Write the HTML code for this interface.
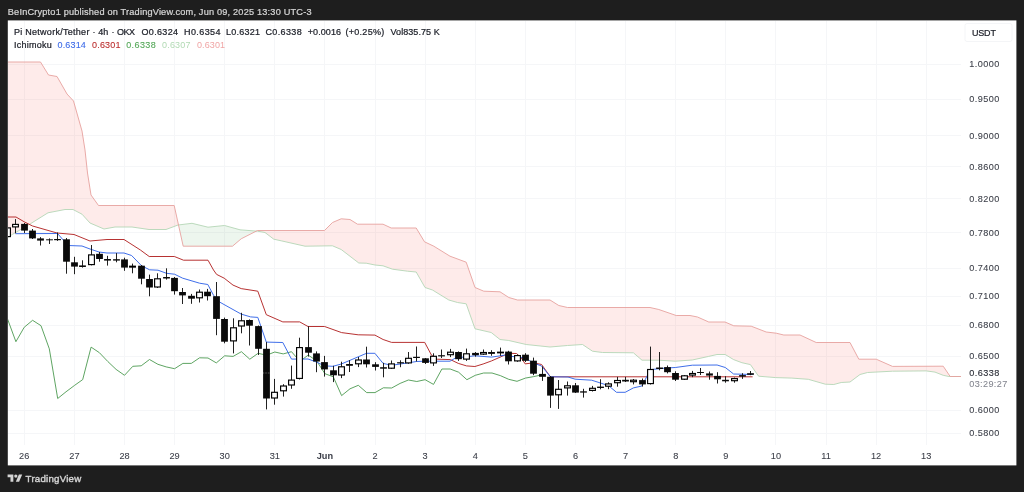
<!DOCTYPE html>
<html><head><meta charset="utf-8"><title>Pi Network/Tether chart</title>
<style>
html,body{margin:0;padding:0;background:#1e1e1e;}
body{width:1024px;height:492px;position:relative;overflow:hidden;font-family:"Liberation Sans",sans-serif;}
svg text{font-family:"Liberation Sans",sans-serif;}
</style></head><body>

<svg width="1024" height="492" viewBox="0 0 1024 492" style="position:absolute;left:0;top:0"><defs><clipPath id="pane"><rect x="8" y="21" width="953" height="424"/></clipPath></defs><rect x="7.8" y="20.4" width="1008.6" height="445" fill="#fff"/><rect x="965" y="23.5" width="47" height="18" rx="2" fill="none" stroke="#f4f5f7" stroke-width="1"/><g stroke="#f5f6f8" stroke-width="1" shape-rendering="crispEdges"><line x1="24.5" y1="21" x2="24.5" y2="445"/><line x1="74.5" y1="21" x2="74.5" y2="445"/><line x1="124.5" y1="21" x2="124.5" y2="445"/><line x1="174.5" y1="21" x2="174.5" y2="445"/><line x1="224.5" y1="21" x2="224.5" y2="445"/><line x1="274.5" y1="21" x2="274.5" y2="445"/><line x1="324.5" y1="21" x2="324.5" y2="445"/><line x1="375.5" y1="21" x2="375.5" y2="445"/><line x1="425.5" y1="21" x2="425.5" y2="445"/><line x1="475.5" y1="21" x2="475.5" y2="445"/><line x1="525.5" y1="21" x2="525.5" y2="445"/><line x1="575.5" y1="21" x2="575.5" y2="445"/><line x1="625.5" y1="21" x2="625.5" y2="445"/><line x1="675.5" y1="21" x2="675.5" y2="445"/><line x1="725.5" y1="21" x2="725.5" y2="445"/><line x1="775.5" y1="21" x2="775.5" y2="445"/><line x1="826.5" y1="21" x2="826.5" y2="445"/><line x1="876.5" y1="21" x2="876.5" y2="445"/><line x1="926.5" y1="21" x2="926.5" y2="445"/><line x1="8" y1="64.5" x2="961" y2="64.5"/><line x1="8" y1="99.5" x2="961" y2="99.5"/><line x1="8" y1="135.5" x2="961" y2="135.5"/><line x1="8" y1="166.5" x2="961" y2="166.5"/><line x1="8" y1="198.5" x2="961" y2="198.5"/><line x1="8" y1="232.5" x2="961" y2="232.5"/><line x1="8" y1="268.5" x2="961" y2="268.5"/><line x1="8" y1="296.5" x2="961" y2="296.5"/><line x1="8" y1="325.5" x2="961" y2="325.5"/><line x1="8" y1="356.5" x2="961" y2="356.5"/><line x1="8" y1="410.5" x2="961" y2="410.5"/><line x1="8" y1="433.5" x2="961" y2="433.5"/></g><g clip-path="url(#pane)"><polygon points="7.2,62.0 12.6,62.0 30.2,62.0 40.5,62.0 48.0,74.2 48.5,75.0 57.0,76.5 65.0,90.5 67.0,94.0 73.0,100.5 73.5,101.0 82.0,131.0 85.0,150.0 87.5,173.0 90.0,188.7 91.0,195.0 98.5,205.5 104.0,205.5 115.0,205.5 132.0,205.5 149.0,205.5 166.0,205.5 174.2,205.5 178.0,222.7 178.5,224.9 178.5,224.9 178.0,225.0 174.2,226.4 166.0,229.5 149.0,229.5 132.0,227.0 115.0,227.0 104.0,229.0 98.5,226.6 91.0,223.4 90.0,223.0 87.5,220.2 85.0,217.5 82.0,214.2 73.5,209.8 73.0,209.5 67.0,209.5 65.0,209.5 57.0,211.1 48.5,212.7 48.0,212.8 40.5,217.5 30.2,223.9 12.6,234.3 7.2,237.6" fill="rgba(244,67,54,0.105)"/><polygon points="178.5,224.9 183.2,246.2 192.0,246.2 208.0,246.2 224.5,246.2 232.5,246.2 240.0,239.8 241.2,238.8 256.3,231.1 256.3,231.1 241.2,229.9 240.0,229.8 232.5,227.7 224.5,225.5 208.0,227.2 192.0,223.3 183.2,224.4 178.5,224.9" fill="rgba(67,160,71,0.095)"/><polygon points="256.3,231.1 257.5,230.5 265.0,230.5 273.8,230.5 281.2,230.5 305.0,230.5 324.5,230.5 332.5,222.5 341.2,218.8 350.0,219.5 357.5,224.2 358.8,224.2 366.2,224.2 375.0,224.2 383.0,224.2 391.2,228.0 392.5,228.0 407.5,228.0 416.2,228.0 424.5,241.8 425.0,242.0 432.5,245.6 433.8,246.2 448.8,255.5 450.0,256.2 457.5,259.0 466.2,262.2 475.0,287.5 483.8,291.2 491.2,291.5 500.0,291.8 508.8,297.5 517.5,300.0 526.2,300.0 550.0,300.0 558.8,305.5 567.5,307.5 582.5,307.5 592.5,307.5 602.5,307.5 633.4,307.5 642.0,307.5 650.0,307.5 658.6,309.5 658.8,309.5 675.3,315.2 676.2,315.5 690.0,315.5 692.3,316.0 697.5,317.0 708.7,322.0 708.8,322.0 717.0,322.0 725.0,322.0 725.2,322.1 733.6,325.7 733.8,325.8 741.9,326.0 750.4,326.2 751.2,326.2 758.6,329.1 766.2,332.0 775.6,333.1 776.2,333.2 783.8,335.0 791.9,335.0 800.0,335.0 808.3,338.8 816.2,342.5 825.3,342.5 833.8,342.5 841.2,342.5 850.0,342.5 858.8,359.2 860.0,359.2 867.5,359.2 876.2,359.2 892.5,366.4 926.2,366.3 935.0,366.2 943.2,366.2 948.9,374.6 950.2,376.5 962.0,376.5 962.0,376.5 950.2,376.5 948.9,376.5 943.2,375.3 935.0,372.1 926.2,370.9 892.5,371.2 876.2,372.0 867.5,372.5 860.0,374.5 858.8,375.4 850.0,382.0 841.2,382.5 833.8,384.5 825.3,384.2 816.2,381.6 808.3,379.3 800.0,378.7 791.9,378.1 783.8,377.9 776.2,377.6 775.6,377.6 766.2,376.8 758.6,376.2 751.2,365.7 750.4,364.6 741.9,362.7 733.8,359.7 733.6,359.6 725.2,354.5 725.0,354.5 717.0,354.5 708.8,356.4 708.7,356.4 697.5,358.9 692.3,360.0 690.0,360.2 676.2,361.1 675.3,361.2 658.8,360.2 658.6,360.2 650.0,360.2 642.0,360.2 633.4,352.8 602.5,352.5 592.5,351.2 582.5,344.5 567.5,345.5 558.8,346.2 550.0,347.0 526.2,344.5 517.5,342.5 508.8,340.5 500.0,339.5 491.2,332.5 483.8,330.8 475.0,328.8 466.2,303.8 457.5,302.5 450.0,300.3 448.8,300.0 433.8,290.8 432.5,290.0 425.0,287.5 424.5,286.6 416.2,272.0 407.5,271.2 392.5,269.2 391.2,268.7 383.0,265.8 375.0,265.0 366.2,263.2 358.8,263.0 357.5,262.0 350.0,256.2 341.2,249.5 332.5,245.8 324.5,245.9 305.0,246.2 281.2,240.8 273.8,239.2 265.0,232.5 257.5,231.2 256.3,231.1" fill="rgba(244,67,54,0.105)"/><polyline points="7.2,237.6 12.6,234.3 30.2,223.9 48.0,212.8 65.0,209.5 73.0,209.5 82.0,214.2 90.0,223.0 104.0,229.0 115.0,227.0 132.0,227.0 149.0,229.5 166.0,229.5 178.0,225.0 192.0,223.3 208.0,227.2 224.5,225.5 240.0,229.8 257.5,231.2 265.0,232.5 273.8,239.2 281.2,240.8 305.0,246.2 332.5,245.8 341.2,249.5 358.8,263.0 366.2,263.2 375.0,265.0 383.0,265.8 392.5,269.2 407.5,271.2 416.2,272.0 425.0,287.5 432.5,290.0 448.8,300.0 457.5,302.5 466.2,303.8 475.0,328.8 491.2,332.5 500.0,339.5 508.8,340.5 526.2,344.5 550.0,347.0 567.5,345.5 582.5,344.5 592.5,351.2 602.5,352.5 633.4,352.8 642.0,360.2 658.6,360.2 675.3,361.2 692.3,360.0 708.7,356.4 717.0,354.5 725.2,354.5 733.6,359.6 741.9,362.7 750.4,364.6 758.6,376.2 775.6,377.6 791.9,378.1 808.3,379.3 825.3,384.2 833.8,384.5 841.2,382.5 850.0,382.0 860.0,374.5 867.5,372.5 892.5,371.2 926.2,370.9 935.0,372.1 943.2,375.3 948.9,376.5 962.0,376.5" fill="none" stroke="#b4d6b5" stroke-width="0.9"/><polyline points="7.2,62.0 40.5,62.0 48.5,75.0 57.0,76.5 67.0,94.0 73.5,101.0 82.0,131.0 85.0,150.0 87.5,173.0 91.0,195.0 98.5,205.5 174.2,205.5 183.2,246.2 232.5,246.2 241.2,238.8 257.5,230.5 324.5,230.5 332.5,222.5 341.2,218.8 350.0,219.5 357.5,224.2 383.0,224.2 391.2,228.0 416.2,228.0 424.5,241.8 433.8,246.2 450.0,256.2 466.2,262.2 475.0,287.5 483.8,291.2 500.0,291.8 508.8,297.5 517.5,300.0 550.0,300.0 558.8,305.5 567.5,307.5 650.0,307.5 658.8,309.5 676.2,315.5 690.0,315.5 697.5,317.0 708.8,322.0 725.0,322.0 733.8,325.8 751.2,326.2 766.2,332.0 776.2,333.2 783.8,335.0 800.0,335.0 816.2,342.5 850.0,342.5 858.8,359.2 876.2,359.2 892.5,366.4 943.2,366.2 950.2,376.5 962.0,376.5" fill="none" stroke="#e6a19e" stroke-width="0.9"/><polyline points="7.5,318.9 15.9,341.7 24.2,327.3 32.6,320.3 41.0,325.7 49.3,348.8 57.7,398.5 66.0,391.8 74.4,385.5 82.7,379.6 91.1,347.1 99.4,352.7 107.8,361.5 116.1,369.4 124.5,375.3 132.8,366.3 141.2,365.8 149.5,359.5 157.9,364.3 166.2,366.9 174.6,368.7 182.9,363.4 191.3,363.4 199.6,357.8 208.0,358.0 216.3,362.9 224.7,355.8 233.1,356.4 241.4,351.7 249.8,359.2 258.1,353.3 266.5,355.2 274.8,352.0 283.2,353.9 291.5,351.7 299.9,361.3 308.2,355.1 316.6,360.8 324.9,373.7 333.3,376.8 341.6,395.6 350.0,388.8 358.3,385.3 366.7,392.6 375.0,392.6 383.4,387.8 391.7,388.0 400.1,383.4 408.4,380.0 416.8,381.5 425.1,379.7 433.5,384.4 441.9,369.0 450.2,369.0 458.6,372.2 466.9,379.7 475.3,375.3 483.6,373.0 492.0,373.0 500.3,375.6 508.7,379.3 517.0,381.3 525.4,378.1 533.7,376.6 542.1,374.8" fill="none" stroke="#4c9a50" stroke-width="0.9" stroke-linejoin="round"/><polyline points="7.2,217.0 16.0,217.0 24.2,221.8 32.6,226.0 57.0,233.0 74.0,234.5 90.0,241.0 107.0,239.5 124.0,239.5 140.4,250.0 149.2,256.5 174.4,256.5 183.5,260.2 208.0,260.2 213.5,270.0 216.6,274.4 224.2,278.2 233.0,285.1 241.2,288.6 257.8,291.2 266.3,314.7 282.8,321.9 299.7,321.9 308.0,326.5 324.6,326.5 341.6,332.6 358.2,334.8 374.9,335.1 383.1,339.5 391.6,342.4 424.7,342.4 431.5,355.2 437.2,359.2 450.4,359.6 458.3,363.4 466.5,365.9 474.9,366.5 483.1,364.0 491.6,360.9 504.5,355.2 508.3,353.3 516.5,353.5 520.9,357.4 525.2,363.9 533.4,362.8 541.6,364.5 550.4,376.8 752.6,376.8" fill="none" stroke="#b32727" stroke-width="0.95" stroke-linejoin="round"/><polyline points="15.5,233.7 57.5,233.5 68.0,245.5 82.0,246.0 90.0,249.0 99.0,252.0 107.0,253.0 124.0,253.0 131.6,255.5 141.5,265.7 149.6,269.8 158.0,270.2 166.5,273.3 174.5,274.2 182.7,278.2 199.6,283.2 207.8,284.5 213.5,295.2 219.7,302.1 241.2,314.1 250.6,316.9 257.8,317.4 266.3,342.1 282.8,342.5 291.5,359.1 308.0,359.0 316.2,361.9 324.6,365.9 333.0,366.3 341.3,364.0 366.5,353.3 374.9,353.3 383.1,363.4 391.6,365.3 408.3,362.8 416.5,361.5 424.8,361.2 450.0,361.2 455.4,358.0 474.9,355.8 491.6,357.1 504.5,355.2 508.3,356.0 525.2,358.0 533.4,363.0 541.6,366.0 550.4,376.8 568.0,377.0 575.2,379.2 591.7,380.2 608.5,385.6 616.5,392.3 625.2,392.3 633.4,387.9 641.9,386.0 650.4,369.6 666.8,368.0 675.3,367.5 692.3,365.2 717.1,365.0 725.3,367.5 733.6,374.0 752.6,374.5" fill="none" stroke="#3566e8" stroke-width="0.95" stroke-linejoin="round"/><line x1="7.50" y1="227.0" x2="7.50" y2="237.5" stroke="#151515" stroke-width="0.95"/><rect x="4.60" y="227.9" width="5.8" height="8.7" fill="#fff" stroke="#000" stroke-width="1.15"/><line x1="15.50" y1="219.1" x2="15.50" y2="233.3" stroke="#151515" stroke-width="0.95"/><rect x="12.60" y="224.4" width="5.8" height="2.5" fill="#fff" stroke="#000" stroke-width="1.15"/><line x1="24.50" y1="223.0" x2="24.50" y2="233.0" stroke="#151515" stroke-width="0.95"/><rect x="21.10" y="223.9" width="6.8" height="6.7" fill="#0a0a0a"/><line x1="32.50" y1="229.0" x2="32.50" y2="239.0" stroke="#151515" stroke-width="0.95"/><rect x="29.10" y="230.6" width="6.8" height="7.8" fill="#0a0a0a"/><line x1="40.50" y1="237.1" x2="40.50" y2="245.5" stroke="#151515" stroke-width="0.95"/><rect x="37.10" y="238.4" width="6.8" height="2.2" fill="#0a0a0a"/><line x1="49.50" y1="238.4" x2="49.50" y2="244.0" stroke="#151515" stroke-width="0.95"/><rect x="46.10" y="239.3" width="6.8" height="1.0" fill="#0a0a0a"/><line x1="57.50" y1="232.5" x2="57.50" y2="240.9" stroke="#151515" stroke-width="0.95"/><rect x="54.10" y="239.0" width="6.8" height="1.2" fill="#0a0a0a"/><line x1="66.50" y1="238.0" x2="66.50" y2="273.7" stroke="#151515" stroke-width="0.95"/><rect x="63.10" y="239.3" width="6.8" height="22.4" fill="#0a0a0a"/><line x1="74.50" y1="256.8" x2="74.50" y2="274.2" stroke="#151515" stroke-width="0.95"/><rect x="71.10" y="262.3" width="6.8" height="4.3" fill="#0a0a0a"/><line x1="82.50" y1="260.3" x2="82.50" y2="267.6" stroke="#151515" stroke-width="0.95"/><rect x="79.10" y="265.4" width="6.8" height="1.6" fill="#0a0a0a"/><line x1="91.50" y1="245.0" x2="91.50" y2="265.4" stroke="#151515" stroke-width="0.95"/><rect x="88.60" y="254.9" width="5.8" height="9.7" fill="#fff" stroke="#000" stroke-width="1.15"/><line x1="99.50" y1="252.0" x2="99.50" y2="261.7" stroke="#151515" stroke-width="0.95"/><rect x="96.10" y="253.8" width="6.8" height="5.2" fill="#0a0a0a"/><line x1="107.50" y1="255.8" x2="107.50" y2="265.6" stroke="#151515" stroke-width="0.95"/><rect x="104.10" y="259.0" width="6.8" height="1.6" fill="#0a0a0a"/><line x1="116.50" y1="253.1" x2="116.50" y2="262.3" stroke="#151515" stroke-width="0.95"/><rect x="113.10" y="259.2" width="6.8" height="1.4" fill="#0a0a0a"/><line x1="124.50" y1="257.7" x2="124.50" y2="270.8" stroke="#151515" stroke-width="0.95"/><rect x="121.10" y="259.4" width="6.8" height="8.2" fill="#0a0a0a"/><line x1="132.50" y1="263.6" x2="132.50" y2="273.3" stroke="#151515" stroke-width="0.95"/><rect x="129.60" y="266.2" width="5.8" height="0.9" fill="#fff" stroke="#000" stroke-width="1.15"/><line x1="141.50" y1="265.0" x2="141.50" y2="284.3" stroke="#151515" stroke-width="0.95"/><rect x="138.10" y="265.7" width="6.8" height="13.0" fill="#0a0a0a"/><line x1="149.50" y1="274.6" x2="149.50" y2="296.3" stroke="#151515" stroke-width="0.95"/><rect x="146.10" y="279.0" width="6.8" height="8.5" fill="#0a0a0a"/><line x1="157.50" y1="273.3" x2="157.50" y2="288.0" stroke="#151515" stroke-width="0.95"/><rect x="154.60" y="278.8" width="5.8" height="8.2" fill="#fff" stroke="#000" stroke-width="1.15"/><line x1="166.50" y1="268.3" x2="166.50" y2="279.6" stroke="#151515" stroke-width="0.95"/><rect x="163.10" y="277.0" width="6.8" height="1.5" fill="#0a0a0a"/><line x1="174.50" y1="277.0" x2="174.50" y2="294.6" stroke="#151515" stroke-width="0.95"/><rect x="171.10" y="277.9" width="6.8" height="13.3" fill="#0a0a0a"/><line x1="182.50" y1="288.0" x2="182.50" y2="304.0" stroke="#151515" stroke-width="0.95"/><rect x="179.10" y="292.0" width="6.8" height="3.4" fill="#0a0a0a"/><line x1="191.50" y1="293.9" x2="191.50" y2="303.8" stroke="#151515" stroke-width="0.95"/><rect x="188.10" y="295.8" width="6.8" height="2.9" fill="#0a0a0a"/><line x1="199.50" y1="289.5" x2="199.50" y2="302.5" stroke="#151515" stroke-width="0.95"/><rect x="196.60" y="292.2" width="5.8" height="5.6" fill="#fff" stroke="#000" stroke-width="1.15"/><line x1="207.50" y1="288.9" x2="207.50" y2="300.5" stroke="#151515" stroke-width="0.95"/><rect x="204.10" y="291.7" width="6.8" height="4.5" fill="#0a0a0a"/><line x1="216.50" y1="282.0" x2="216.50" y2="335.2" stroke="#151515" stroke-width="0.95"/><rect x="213.10" y="296.2" width="6.8" height="22.7" fill="#0a0a0a"/><line x1="224.50" y1="317.6" x2="224.50" y2="343.3" stroke="#151515" stroke-width="0.95"/><rect x="221.10" y="319.0" width="6.8" height="22.7" fill="#0a0a0a"/><line x1="233.50" y1="318.3" x2="233.50" y2="353.4" stroke="#151515" stroke-width="0.95"/><rect x="230.60" y="327.8" width="5.8" height="13.1" fill="#fff" stroke="#000" stroke-width="1.15"/><line x1="241.50" y1="312.8" x2="241.50" y2="333.3" stroke="#151515" stroke-width="0.95"/><rect x="238.60" y="320.8" width="5.8" height="5.2" fill="#fff" stroke="#000" stroke-width="1.15"/><line x1="249.50" y1="319.4" x2="249.50" y2="345.5" stroke="#151515" stroke-width="0.95"/><rect x="246.10" y="320.0" width="6.8" height="5.7" fill="#0a0a0a"/><line x1="258.50" y1="325.5" x2="258.50" y2="355.0" stroke="#151515" stroke-width="0.95"/><rect x="255.10" y="326.1" width="6.8" height="22.7" fill="#0a0a0a"/><line x1="266.50" y1="342.1" x2="266.50" y2="409.4" stroke="#151515" stroke-width="0.95"/><rect x="263.10" y="348.8" width="6.8" height="49.7" fill="#0a0a0a"/><line x1="274.50" y1="378.9" x2="274.50" y2="404.7" stroke="#151515" stroke-width="0.95"/><rect x="271.60" y="392.3" width="5.8" height="5.7" fill="#fff" stroke="#000" stroke-width="1.15"/><line x1="283.50" y1="384.2" x2="283.50" y2="396.6" stroke="#151515" stroke-width="0.95"/><rect x="280.60" y="386.0" width="5.8" height="4.8" fill="#fff" stroke="#000" stroke-width="1.15"/><line x1="291.50" y1="365.6" x2="291.50" y2="388.8" stroke="#151515" stroke-width="0.95"/><rect x="288.60" y="380.1" width="5.8" height="4.9" fill="#fff" stroke="#000" stroke-width="1.15"/><line x1="299.50" y1="337.7" x2="299.50" y2="379.5" stroke="#151515" stroke-width="0.95"/><rect x="296.60" y="347.6" width="5.8" height="30.8" fill="#fff" stroke="#000" stroke-width="1.15"/><line x1="308.50" y1="326.3" x2="308.50" y2="356.6" stroke="#151515" stroke-width="0.95"/><rect x="305.10" y="347.1" width="6.8" height="5.6" fill="#0a0a0a"/><line x1="316.50" y1="351.4" x2="316.50" y2="372.2" stroke="#151515" stroke-width="0.95"/><rect x="313.10" y="353.4" width="6.8" height="8.1" fill="#0a0a0a"/><line x1="324.50" y1="355.9" x2="324.50" y2="376.6" stroke="#151515" stroke-width="0.95"/><rect x="321.10" y="362.1" width="6.8" height="7.3" fill="#0a0a0a"/><line x1="333.50" y1="365.8" x2="333.50" y2="382.1" stroke="#151515" stroke-width="0.95"/><rect x="330.10" y="370.3" width="6.8" height="5.0" fill="#0a0a0a"/><line x1="341.50" y1="361.7" x2="341.50" y2="378.1" stroke="#151515" stroke-width="0.95"/><rect x="338.60" y="366.8" width="5.8" height="8.2" fill="#fff" stroke="#000" stroke-width="1.15"/><line x1="349.50" y1="360.2" x2="349.50" y2="372.0" stroke="#151515" stroke-width="0.95"/><rect x="346.10" y="364.0" width="6.8" height="1.8" fill="#0a0a0a"/><line x1="358.50" y1="357.0" x2="358.50" y2="367.1" stroke="#151515" stroke-width="0.95"/><rect x="355.60" y="360.0" width="5.8" height="3.8" fill="#fff" stroke="#000" stroke-width="1.15"/><line x1="366.50" y1="346.7" x2="366.50" y2="367.5" stroke="#151515" stroke-width="0.95"/><rect x="363.10" y="359.5" width="6.8" height="4.8" fill="#0a0a0a"/><line x1="375.50" y1="362.2" x2="375.50" y2="370.5" stroke="#151515" stroke-width="0.95"/><rect x="372.10" y="364.3" width="6.8" height="2.6" fill="#0a0a0a"/><line x1="383.50" y1="362.8" x2="383.50" y2="377.3" stroke="#151515" stroke-width="0.95"/><rect x="380.10" y="367.2" width="6.8" height="1.5" fill="#0a0a0a"/><line x1="391.50" y1="360.5" x2="391.50" y2="369.0" stroke="#151515" stroke-width="0.95"/><rect x="388.60" y="363.9" width="5.8" height="4.3" fill="#fff" stroke="#000" stroke-width="1.15"/><line x1="400.50" y1="360.3" x2="400.50" y2="367.2" stroke="#151515" stroke-width="0.95"/><rect x="397.10" y="362.2" width="6.8" height="1.2" fill="#0a0a0a"/><line x1="408.50" y1="352.0" x2="408.50" y2="363.8" stroke="#151515" stroke-width="0.95"/><rect x="405.60" y="358.3" width="5.8" height="4.6" fill="#fff" stroke="#000" stroke-width="1.15"/><line x1="416.50" y1="346.5" x2="416.50" y2="361.5" stroke="#151515" stroke-width="0.95"/><rect x="413.10" y="356.8" width="6.8" height="1.2" fill="#0a0a0a"/><line x1="425.50" y1="358.0" x2="425.50" y2="364.0" stroke="#151515" stroke-width="0.95"/><rect x="422.10" y="358.3" width="6.8" height="4.6" fill="#0a0a0a"/><line x1="433.50" y1="353.3" x2="433.50" y2="365.9" stroke="#151515" stroke-width="0.95"/><rect x="430.60" y="356.3" width="5.8" height="6.6" fill="#fff" stroke="#000" stroke-width="1.15"/><line x1="441.50" y1="349.5" x2="441.50" y2="358.0" stroke="#151515" stroke-width="0.95"/><rect x="438.10" y="355.2" width="6.8" height="1.2" fill="#0a0a0a"/><line x1="450.50" y1="348.9" x2="450.50" y2="357.1" stroke="#151515" stroke-width="0.95"/><rect x="447.60" y="352.2" width="5.8" height="2.5" fill="#fff" stroke="#000" stroke-width="1.15"/><line x1="458.50" y1="351.4" x2="458.50" y2="360.9" stroke="#151515" stroke-width="0.95"/><rect x="455.10" y="352.0" width="6.8" height="7.2" fill="#0a0a0a"/><line x1="466.50" y1="348.6" x2="466.50" y2="360.9" stroke="#151515" stroke-width="0.95"/><rect x="463.60" y="353.8" width="5.8" height="5.3" fill="#fff" stroke="#000" stroke-width="1.15"/><line x1="475.50" y1="352.0" x2="475.50" y2="356.7" stroke="#151515" stroke-width="0.95"/><rect x="472.10" y="352.9" width="6.8" height="2.3" fill="#0a0a0a"/><line x1="483.50" y1="349.5" x2="483.50" y2="355.0" stroke="#151515" stroke-width="0.95"/><rect x="480.60" y="352.5" width="5.8" height="1.6" fill="#fff" stroke="#000" stroke-width="1.15"/><line x1="491.50" y1="350.2" x2="491.50" y2="355.8" stroke="#151515" stroke-width="0.95"/><rect x="488.10" y="352.0" width="6.8" height="1.9" fill="#0a0a0a"/><line x1="500.50" y1="347.6" x2="500.50" y2="355.8" stroke="#151515" stroke-width="0.95"/><rect x="497.60" y="352.2" width="5.8" height="0.6" fill="#fff" stroke="#000" stroke-width="1.15"/><line x1="508.50" y1="350.8" x2="508.50" y2="364.5" stroke="#151515" stroke-width="0.95"/><rect x="505.10" y="351.6" width="6.8" height="9.7" fill="#0a0a0a"/><line x1="517.50" y1="354.6" x2="517.50" y2="361.8" stroke="#151515" stroke-width="0.95"/><rect x="514.60" y="355.6" width="5.8" height="5.3" fill="#fff" stroke="#000" stroke-width="1.15"/><line x1="525.50" y1="353.2" x2="525.50" y2="362.0" stroke="#151515" stroke-width="0.95"/><rect x="522.10" y="354.7" width="6.8" height="6.1" fill="#0a0a0a"/><line x1="533.50" y1="357.6" x2="533.50" y2="375.2" stroke="#151515" stroke-width="0.95"/><rect x="530.10" y="360.7" width="6.8" height="13.0" fill="#0a0a0a"/><line x1="542.50" y1="366.4" x2="542.50" y2="380.9" stroke="#151515" stroke-width="0.95"/><rect x="539.10" y="373.9" width="6.8" height="2.9" fill="#0a0a0a"/><line x1="550.50" y1="376.0" x2="550.50" y2="407.9" stroke="#151515" stroke-width="0.95"/><rect x="547.10" y="376.8" width="6.8" height="18.8" fill="#0a0a0a"/><line x1="558.50" y1="380.0" x2="558.50" y2="408.9" stroke="#151515" stroke-width="0.95"/><rect x="555.60" y="389.3" width="5.8" height="5.5" fill="#fff" stroke="#000" stroke-width="1.15"/><line x1="567.50" y1="381.5" x2="567.50" y2="395.6" stroke="#151515" stroke-width="0.95"/><rect x="564.60" y="385.8" width="5.8" height="2.1" fill="#fff" stroke="#000" stroke-width="1.15"/><line x1="575.50" y1="383.0" x2="575.50" y2="393.0" stroke="#151515" stroke-width="0.95"/><rect x="572.10" y="385.3" width="6.8" height="7.3" fill="#0a0a0a"/><line x1="583.50" y1="388.8" x2="583.50" y2="397.6" stroke="#151515" stroke-width="0.95"/><rect x="580.10" y="391.3" width="6.8" height="1.3" fill="#0a0a0a"/><line x1="592.50" y1="385.9" x2="592.50" y2="391.5" stroke="#151515" stroke-width="0.95"/><rect x="589.60" y="388.3" width="5.8" height="2.1" fill="#fff" stroke="#000" stroke-width="1.15"/><line x1="600.50" y1="379.2" x2="600.50" y2="389.3" stroke="#151515" stroke-width="0.95"/><rect x="597.10" y="386.6" width="6.8" height="1.4" fill="#0a0a0a"/><line x1="608.50" y1="382.3" x2="608.50" y2="389.2" stroke="#151515" stroke-width="0.95"/><rect x="605.60" y="383.9" width="5.8" height="2.3" fill="#fff" stroke="#000" stroke-width="1.15"/><line x1="617.50" y1="376.9" x2="617.50" y2="386.7" stroke="#151515" stroke-width="0.95"/><rect x="614.60" y="380.5" width="5.8" height="2.2" fill="#fff" stroke="#000" stroke-width="1.15"/><line x1="625.50" y1="376.9" x2="625.50" y2="382.0" stroke="#151515" stroke-width="0.95"/><rect x="622.10" y="379.8" width="6.8" height="1.7" fill="#0a0a0a"/><line x1="633.50" y1="379.0" x2="633.50" y2="384.4" stroke="#151515" stroke-width="0.95"/><rect x="630.60" y="380.2" width="5.8" height="1.5" fill="#fff" stroke="#000" stroke-width="1.15"/><line x1="642.50" y1="378.5" x2="642.50" y2="386.6" stroke="#151515" stroke-width="0.95"/><rect x="639.10" y="380.1" width="6.8" height="4.3" fill="#0a0a0a"/><line x1="650.50" y1="346.6" x2="650.50" y2="384.5" stroke="#151515" stroke-width="0.95"/><rect x="647.60" y="369.5" width="5.8" height="14.1" fill="#fff" stroke="#000" stroke-width="1.15"/><line x1="659.50" y1="352.0" x2="659.50" y2="370.3" stroke="#151515" stroke-width="0.95"/><rect x="656.10" y="367.5" width="6.8" height="1.5" fill="#0a0a0a"/><line x1="667.50" y1="365.5" x2="667.50" y2="373.4" stroke="#151515" stroke-width="0.95"/><rect x="664.10" y="367.1" width="6.8" height="5.1" fill="#0a0a0a"/><line x1="675.50" y1="371.3" x2="675.50" y2="381.0" stroke="#151515" stroke-width="0.95"/><rect x="672.10" y="373.0" width="6.8" height="6.7" fill="#0a0a0a"/><line x1="684.50" y1="375.0" x2="684.50" y2="380.0" stroke="#151515" stroke-width="0.95"/><rect x="681.60" y="375.8" width="5.8" height="3.4" fill="#fff" stroke="#000" stroke-width="1.15"/><line x1="692.50" y1="370.9" x2="692.50" y2="377.2" stroke="#151515" stroke-width="0.95"/><rect x="689.60" y="373.5" width="5.8" height="1.6" fill="#fff" stroke="#000" stroke-width="1.15"/><line x1="700.50" y1="368.0" x2="700.50" y2="375.0" stroke="#151515" stroke-width="0.95"/><rect x="697.10" y="372.0" width="6.8" height="1.0" fill="#0a0a0a"/><line x1="709.50" y1="371.5" x2="709.50" y2="379.7" stroke="#151515" stroke-width="0.95"/><rect x="706.10" y="373.4" width="6.8" height="2.2" fill="#0a0a0a"/><line x1="717.50" y1="372.2" x2="717.50" y2="383.5" stroke="#151515" stroke-width="0.95"/><rect x="714.10" y="375.9" width="6.8" height="3.4" fill="#0a0a0a"/><line x1="725.50" y1="376.2" x2="725.50" y2="382.7" stroke="#151515" stroke-width="0.95"/><rect x="722.10" y="379.8" width="6.8" height="1.5" fill="#0a0a0a"/><line x1="734.50" y1="377.6" x2="734.50" y2="382.7" stroke="#151515" stroke-width="0.95"/><rect x="731.60" y="378.6" width="5.8" height="2.1" fill="#fff" stroke="#000" stroke-width="1.15"/><line x1="742.50" y1="373.2" x2="742.50" y2="378.9" stroke="#151515" stroke-width="0.95"/><rect x="739.10" y="375.1" width="6.8" height="1.5" fill="#0a0a0a"/><line x1="750.50" y1="371.0" x2="750.50" y2="375.2" stroke="#151515" stroke-width="0.95"/><rect x="747.10" y="373.2" width="6.8" height="1.6" fill="#0a0a0a"/><line x1="263.2" y1="373" x2="270.2" y2="373" stroke="#fff" stroke-opacity="0.7" stroke-width="0.6" stroke-dasharray="0.8 0.8"/></g><g transform="translate(7.6,472.8) scale(0.411,0.405)" fill="#d4d4d4"><path d="M14 22H7V11H0V4h14v18z"/><circle cx="20" cy="8" r="4"/><path d="M28 22h-8l7.5-18h8L28 22z"/></g>
<g><text x="7.8" y="15.1" font-size="9.2" fill="#d6d6d6" stroke="#d6d6d6" stroke-width="0.22" font-weight="400" text-anchor="start" textLength="303.7" lengthAdjust="spacing">BeInCrypto1 published on TradingView.com, Jun 09, 2025 13:30 UTC-3</text><text x="13.9" y="35.3" font-size="9.0" fill="#1b1e27" stroke="#1b1e27" stroke-width="0.22" font-weight="400" text-anchor="start" textLength="75.5" lengthAdjust="spacing">Pi Network/Tether</text><text x="92.6" y="35.3" font-size="9.0" fill="#1b1e27" stroke="#1b1e27" stroke-width="0.22" font-weight="400" text-anchor="start">·</text><text x="98.2" y="35.3" font-size="9.0" fill="#1b1e27" stroke="#1b1e27" stroke-width="0.22" font-weight="400" text-anchor="start" textLength="10.1" lengthAdjust="spacing">4h</text><text x="111.5" y="35.3" font-size="9.0" fill="#1b1e27" stroke="#1b1e27" stroke-width="0.22" font-weight="400" text-anchor="start">·</text><text x="117.1" y="35.3" font-size="9.0" fill="#1b1e27" stroke="#1b1e27" stroke-width="0.22" font-weight="400" text-anchor="start" textLength="17.9" lengthAdjust="spacing">OKX</text><text x="141.5" y="35.3" font-size="9.0" fill="#1b1e27" stroke="#1b1e27" stroke-width="0.22" font-weight="400" text-anchor="start" textLength="36.5" lengthAdjust="spacing">O0.6324</text><text x="184" y="35.3" font-size="9.0" fill="#1b1e27" stroke="#1b1e27" stroke-width="0.22" font-weight="400" text-anchor="start" textLength="36.5" lengthAdjust="spacing">H0.6354</text><text x="226" y="35.3" font-size="9.0" fill="#1b1e27" stroke="#1b1e27" stroke-width="0.22" font-weight="400" text-anchor="start" textLength="34" lengthAdjust="spacing">L0.6321</text><text x="265.5" y="35.3" font-size="9.0" fill="#1b1e27" stroke="#1b1e27" stroke-width="0.22" font-weight="400" text-anchor="start" textLength="36.2" lengthAdjust="spacing">C0.6338</text><text x="307.7" y="35.3" font-size="9.0" fill="#1b1e27" stroke="#1b1e27" stroke-width="0.22" font-weight="400" text-anchor="start" textLength="33.3" lengthAdjust="spacing">+0.0016</text><text x="345.5" y="35.3" font-size="9.0" fill="#1b1e27" stroke="#1b1e27" stroke-width="0.22" font-weight="400" text-anchor="start" textLength="38.7" lengthAdjust="spacing">(+0.25%)</text><text x="390.5" y="35.3" font-size="9.0" fill="#1b1e27" stroke="#1b1e27" stroke-width="0.22" font-weight="400" text-anchor="start" textLength="49.2" lengthAdjust="spacing">Vol835.75 K</text><text x="13.9" y="47.9" font-size="9.0" fill="#1b1e27" stroke="#1b1e27" stroke-width="0.22" font-weight="400" text-anchor="start" textLength="37.8" lengthAdjust="spacing">Ichimoku</text><text x="57.5" y="47.9" font-size="9.0" fill="#3d6be8" stroke="#3d6be8" stroke-width="0.1" font-weight="400" text-anchor="start" textLength="28.3" lengthAdjust="spacing">0.6314</text><text x="92" y="47.9" font-size="9.0" fill="#bb2f2f" stroke="#bb2f2f" stroke-width="0.1" font-weight="400" text-anchor="start" textLength="28.5" lengthAdjust="spacing">0.6301</text><text x="126.2" y="47.9" font-size="9.0" fill="#55a859" stroke="#55a859" stroke-width="0.1" font-weight="400" text-anchor="start" textLength="29.5" lengthAdjust="spacing">0.6338</text><text x="162" y="47.9" font-size="9.0" fill="#b2dab4" stroke="#b2dab4" stroke-width="0" font-weight="400" text-anchor="start" textLength="28.5" lengthAdjust="spacing">0.6307</text><text x="197" y="47.9" font-size="9.0" fill="#f0a5a5" stroke="#f0a5a5" stroke-width="0" font-weight="400" text-anchor="start" textLength="28" lengthAdjust="spacing">0.6301</text><text x="972" y="36.1" font-size="9.0" fill="#1b1e27" stroke="#1b1e27" stroke-width="0.22" font-weight="400" text-anchor="start" textLength="23.9" lengthAdjust="spacing">USDT</text><text x="969.2" y="67.4" font-size="9.1" fill="#3a3d47" stroke="#3a3d47" stroke-width="0.08" font-weight="400" text-anchor="start" textLength="30.2" lengthAdjust="spacing">1.0000</text><text x="969.2" y="102.12556030037175" font-size="9.1" fill="#3a3d47" stroke="#3a3d47" stroke-width="0.08" font-weight="400" text-anchor="start" textLength="30.2" lengthAdjust="spacing">0.9500</text><text x="969.2" y="138.7290691003484" font-size="9.1" fill="#3a3d47" stroke="#3a3d47" stroke-width="0.08" font-weight="400" text-anchor="start" textLength="30.2" lengthAdjust="spacing">0.9000</text><text x="969.2" y="169.50709635031316" font-size="9.1" fill="#3a3d47" stroke="#3a3d47" stroke-width="0.08" font-weight="400" text-anchor="start" textLength="30.2" lengthAdjust="spacing">0.8600</text><text x="969.2" y="201.75128551603854" font-size="9.1" fill="#3a3d47" stroke="#3a3d47" stroke-width="0.08" font-weight="400" text-anchor="start" textLength="30.2" lengthAdjust="spacing">0.8200</text><text x="969.2" y="235.60834024508424" font-size="9.1" fill="#3a3d47" stroke="#3a3d47" stroke-width="0.08" font-weight="400" text-anchor="start" textLength="30.2" lengthAdjust="spacing">0.7800</text><text x="969.2" y="271.2481478147149" font-size="9.1" fill="#3a3d47" stroke="#3a3d47" stroke-width="0.08" font-weight="400" text-anchor="start" textLength="30.2" lengthAdjust="spacing">0.7400</text><text x="969.2" y="299.2659391569673" font-size="9.1" fill="#3a3d47" stroke="#3a3d47" stroke-width="0.08" font-weight="400" text-anchor="start" textLength="30.2" lengthAdjust="spacing">0.7100</text><text x="969.2" y="328.49349950971356" font-size="9.1" fill="#3a3d47" stroke="#3a3d47" stroke-width="0.08" font-weight="400" text-anchor="start" textLength="30.2" lengthAdjust="spacing">0.6800</text><text x="969.2" y="359.0400341945915" font-size="9.1" fill="#3a3d47" stroke="#3a3d47" stroke-width="0.08" font-weight="400" text-anchor="start" textLength="30.2" lengthAdjust="spacing">0.6500</text><text x="969.2" y="413.2289472895757" font-size="9.1" fill="#3a3d47" stroke="#3a3d47" stroke-width="0.08" font-weight="400" text-anchor="start" textLength="30.2" lengthAdjust="spacing">0.6000</text><text x="969.2" y="436.18029777401205" font-size="9.1" fill="#3a3d47" stroke="#3a3d47" stroke-width="0.08" font-weight="400" text-anchor="start" textLength="30.2" lengthAdjust="spacing">0.5800</text><text x="969.2" y="376.09999999999997" font-size="9.1" fill="#2a2d36" stroke="#2a2d36" stroke-width="0.12" font-weight="400" text-anchor="start" textLength="30.2" lengthAdjust="spacing">0.6338</text><text x="969.2" y="386.8" font-size="9.1" fill="#80838d" stroke="#80838d" stroke-width="0.05" font-weight="400" text-anchor="start" textLength="38" lengthAdjust="spacing">03:29:27</text><text x="24.2" y="458.5" font-size="9.2" fill="#3a3d47" stroke="#3a3d47" stroke-width="0.08" font-weight="400" text-anchor="middle">26</text><text x="74.4" y="458.5" font-size="9.2" fill="#3a3d47" stroke="#3a3d47" stroke-width="0.08" font-weight="400" text-anchor="middle">27</text><text x="124.5" y="458.5" font-size="9.2" fill="#3a3d47" stroke="#3a3d47" stroke-width="0.08" font-weight="400" text-anchor="middle">28</text><text x="174.6" y="458.5" font-size="9.2" fill="#3a3d47" stroke="#3a3d47" stroke-width="0.08" font-weight="400" text-anchor="middle">29</text><text x="224.7" y="458.5" font-size="9.2" fill="#3a3d47" stroke="#3a3d47" stroke-width="0.08" font-weight="400" text-anchor="middle">30</text><text x="274.8" y="458.5" font-size="9.2" fill="#3a3d47" stroke="#3a3d47" stroke-width="0.08" font-weight="400" text-anchor="middle">31</text><text x="324.9" y="458.5" font-size="9.2" fill="#3a3d47" stroke="#3a3d47" stroke-width="0" font-weight="700" text-anchor="middle">Jun</text><text x="375.0" y="458.5" font-size="9.2" fill="#3a3d47" stroke="#3a3d47" stroke-width="0.08" font-weight="400" text-anchor="middle">2</text><text x="425.1" y="458.5" font-size="9.2" fill="#3a3d47" stroke="#3a3d47" stroke-width="0.08" font-weight="400" text-anchor="middle">3</text><text x="475.2" y="458.5" font-size="9.2" fill="#3a3d47" stroke="#3a3d47" stroke-width="0.08" font-weight="400" text-anchor="middle">4</text><text x="525.4" y="458.5" font-size="9.2" fill="#3a3d47" stroke="#3a3d47" stroke-width="0.08" font-weight="400" text-anchor="middle">5</text><text x="575.5" y="458.5" font-size="9.2" fill="#3a3d47" stroke="#3a3d47" stroke-width="0.08" font-weight="400" text-anchor="middle">6</text><text x="625.6" y="458.5" font-size="9.2" fill="#3a3d47" stroke="#3a3d47" stroke-width="0.08" font-weight="400" text-anchor="middle">7</text><text x="675.7" y="458.5" font-size="9.2" fill="#3a3d47" stroke="#3a3d47" stroke-width="0.08" font-weight="400" text-anchor="middle">8</text><text x="725.8" y="458.5" font-size="9.2" fill="#3a3d47" stroke="#3a3d47" stroke-width="0.08" font-weight="400" text-anchor="middle">9</text><text x="775.9" y="458.5" font-size="9.2" fill="#3a3d47" stroke="#3a3d47" stroke-width="0.08" font-weight="400" text-anchor="middle">10</text><text x="826.0" y="458.5" font-size="9.2" fill="#3a3d47" stroke="#3a3d47" stroke-width="0.08" font-weight="400" text-anchor="middle">11</text><text x="876.1" y="458.5" font-size="9.2" fill="#3a3d47" stroke="#3a3d47" stroke-width="0.08" font-weight="400" text-anchor="middle">12</text><text x="926.2" y="458.5" font-size="9.2" fill="#3a3d47" stroke="#3a3d47" stroke-width="0.08" font-weight="400" text-anchor="middle">13</text><text x="25.6" y="482" font-size="9.7" fill="#d4d4d4" stroke="#d4d4d4" stroke-width="0.4" font-weight="400" text-anchor="start" textLength="55.6" lengthAdjust="spacing">TradingView</text></g>
</svg>
</body></html>
